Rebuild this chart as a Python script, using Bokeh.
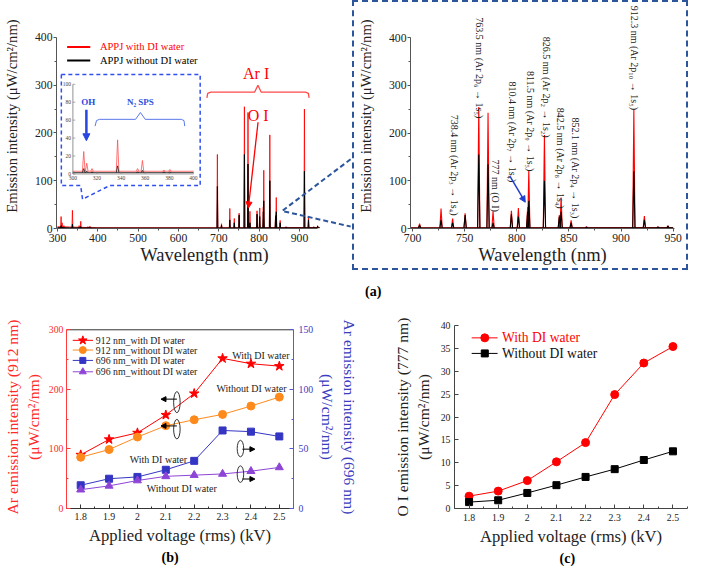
import math
from bokeh.plotting import figure
from bokeh.layouts import row, column
from bokeh.models import Range1d, LinearAxis, FixedTicker, Arrow, NormalHead, Title, Div
from bokeh.core.properties import value
from bokeh.embed import file_html
from bokeh.resources import INLINE

FONT = "Liberation Serif"

# ---------------- (a) emission spectra (peak centre, peak height) ----------------
peak_wl = [309.0, 311.5, 315.9, 337.1, 353.7, 357.7, 375.5, 380.5,
           696.5, 706.7, 727.3, 738.4, 750.4, 763.5, 772.4, 777.2, 794.8, 801.5,
           810.4, 811.5, 826.5, 840.8, 842.5, 852.1, 866.8, 912.3, 922.4, 935.4, 945.0]
peak_with = [25, 12, 6, 38, 6, 15, 4, 5,
             155, 10, 42, 21, 32, 255, 243, 36, 37, 43,
             45, 122, 196, 28, 65, 17, 4, 250, 26, 4, 6]
peak_without = [6, 3, 2, 9, 2, 4, 2, 2,
                88, 7, 18, 12, 28, 155, 135, 12, 30, 25,
                35, 58, 100, 25, 35, 12, 3, 120, 18, 3, 5]
base_wl = [300, 330, 400, 690, 950]
base_with = [3.5, 3.0, 1.5, 1.5, 2.0]
base_without = [1.8, 1.5, 1.0, 1.0, 1.5]

a_xticks = [300, 400, 500, 600, 700, 800, 900]
a_yticks = [0, 100, 200, 300, 400]
b_xticks = [700, 750, 800, 850, 900, 950]
inset_xticks = [300, 320, 340, 360, 380, 400]
inset_yticks = [0, 20, 40, 60, 80, 100]

line_labels = ["738.4 nm (Ar 2p\u2083 \u2192 1s\u2084)", "763.5 nm (Ar 2p\u2086 \u2192 1s\u2085)",
               "777 nm (O I)", "810.4 nm (Ar 2p\u2087 \u2192 1s\u2084)",
               "811.5 nm (Ar 2p\u2089 \u2192 1s\u2085)", "826.5 nm (Ar 2p\u2082 \u2192 1s\u2082)",
               "842.5 nm (Ar 2p\u2088 \u2192 1s\u2084)", "852.1 nm (Ar 2p\u2084 \u2192 1s\u2083)",
               "912.3 nm (Ar 2p\u2081\u2080 \u2192 1s\u2085)"]

# ---------------- (b) / (c) ----------------
volt = [1.8, 1.9, 2.0, 2.1, 2.2, 2.3, 2.4, 2.5]
ar912_with = [90, 116, 127, 157, 193, 252, 243, 239]
ar912_without = [86, 99, 120, 139, 149, 158, 172, 187]
ar696_with = [19.5, 25, 26.5, 32.5, 40, 65.5, 64.5, 60.5]
ar696_without = [15.8, 19, 23.5, 27, 28, 29, 31.3, 34.5]
oi_with = [2.7, 3.8, 6.1, 10.2, 14.4, 24.9, 31.8, 35.4]
oi_without = [1.4, 1.8, 3.4, 5.1, 6.9, 8.6, 10.6, 12.5]
b_legend = ["912 nm_with DI water", "912 nm_without DI water",
            "696 nm_with DI water", "696 nm_without DI water"]
c_legend = ["With DI water", "Without DI water"]

RED = "#ff0000"
ORANGE = "#ff8a1c"
BLUE = "#3535c4"
PURPLE = "#8e45d6"
NAVY = "#2c559c"
INSET_BLUE = "#2f4ff0"
HW = 1.1


def base_fig(**kw):
    p = figure(output_backend="svg", toolbar_location=None, title=None, **kw)
    p.xgrid.visible = False
    p.ygrid.visible = False
    p.outline_line_color = None
    p.background_fill_color = "white"
    p.border_fill_color = "white"
    return p


def style_axis(ax, tick_size, label_size, color="#222222", line_color="#555555"):
    ax.axis_label_text_font = FONT
    ax.axis_label_text_font_style = "normal"
    ax.axis_label_text_font_size = f"{label_size}px"
    ax.axis_label_text_color = color
    ax.major_label_text_font = FONT
    ax.major_label_text_font_size = f"{tick_size}px"
    ax.major_label_text_color = color
    ax.axis_line_color = line_color
    ax.major_tick_line_color = line_color
    ax.minor_tick_line_color = line_color


def txt(p, x, y, s, size, color="black", align="center", baseline="middle",
        angle=0.0, bold=False, **kw):
    p.text(x=[x], y=[y], text=[s], text_font=value(FONT), text_font_size=f"{size}px",
           text_color=color, text_align=align, text_baseline=baseline, angle=angle,
           text_font_style="bold" if bold else "normal", **kw)


def peak_lines(wl, h, base, maxwl=None):
    xs, ys = [], []
    for w, v in zip(wl, h):
        if maxwl is not None and w > maxwl:
            continue
        xs.append([w - HW, w, w + HW])
        ys.append([base, v, base])
    return xs, ys


def panel_tag(p, text, place, offset, standoff, valign="bottom"):
    p.add_layout(Title(text=text, align="left", offset=offset, standoff=standoff,
                       vertical_align=valign,
                       text_font=FONT, text_font_size="14px", text_font_style="bold",
                       text_color="black"), place)


# ======================= (a) left: full spectrum =======================
pa = base_fig(width=352, height=284, x_range=Range1d(297.6, 1031.5), y_range=Range1d(0, 471.2),
              min_border_left=52, min_border_right=0, min_border_top=3, min_border_bottom=56)
pa.extra_x_ranges = {"ix": Range1d(286.4, 532.0)}
pa.extra_y_ranges = {"iy": Range1d(-60.87, 190.1)}

xs, ys = peak_lines(peak_wl, peak_with, 1.5)
pa.multi_line(xs, ys, line_color=RED, line_width=1, line_alpha=0.85)
pa.line(base_wl, base_with, line_color=RED, line_width=1)
xs, ys = peak_lines(peak_wl, peak_without, 1.0)
pa.multi_line(xs, ys, line_color="black", line_width=1)
pa.line(base_wl, base_without, line_color="black", line_width=1)

pa.xaxis.ticker = FixedTicker(ticks=a_xticks, minor_ticks=[t + 50 for t in a_xticks[:-1]])
pa.xaxis.bounds = (297.6, 945)
pa.yaxis.ticker = FixedTicker(ticks=a_yticks, minor_ticks=[t + 50 for t in a_yticks[:-1]])
pa.yaxis.bounds = (0, 400)
pa.xaxis.axis_label = "Wavelength (nm)"
pa.yaxis.axis_label = "Emission intensity (\u03bcW/cm\u00b2/nm)"
style_axis(pa.xaxis[0], 11.7, 18.5)
style_axis(pa.yaxis[0], 11.7, 14.7)
for ax in (pa.xaxis[0], pa.yaxis[0]):
    ax.major_tick_out = 3
    ax.major_tick_in = 0
    ax.minor_tick_out = 2
    ax.minor_tick_in = 0
pa.yaxis.major_label_standoff = 1
pa.yaxis.axis_label_standoff = 12
pa.xaxis.major_label_standoff = 2
pa.xaxis.axis_label_standoff = 0

# legend
pa.segment(x0=[323.9], y0=[380.3], x1=[381.3], y1=[380.3], line_color=RED, line_width=2)
txt(pa, 405.2, 380.3, "APPJ with DI water", 10.5, color=RED, align="left")
pa.segment(x0=[323.9], y0=[351.7], x1=[381.3], y1=[351.7], line_color="black", line_width=2)
txt(pa, 405.2, 351.7, "APPJ without DI water", 10.5, color="black", align="left")

# Ar I brace and O I arrow
pa.line([670.5, 672.5, 680, 789, 797, 805, 915, 922, 924],
        [273.5, 283, 285.7, 285.7, 300, 285.7, 285.7, 283, 273.5],
        line_color="#ff4a4a", line_width=1.3)
txt(pa, 792.5, 324.5, "Ar I", 16, color=RED)
txt(pa, 797.5, 237, "O I", 16, color=RED)
pa.add_layout(Arrow(end=NormalHead(size=6, fill_color=RED, line_color=RED),
                    x_start=797.3, y_start=222.5, x_end=773.3, y_end=42.9,
                    line_color=RED, line_width=1.3))

# inset callout box
pa.line([309.6, 653.8, 653.8, 429.1, 362.2, 357.4, 309.6, 309.6],
        [322.5, 322.5, 89.8, 89.8, 61.2, 89.8, 89.8, 322.5],
        line_color=INSET_BLUE, line_width=1.5, line_dash="4 3")
# zoom connectors towards panel on the right
pa.line([1026.8, 857.0, 1026.8], [145.0, 36.7, 4.1],
        line_color=NAVY, line_width=2, line_dash="5 3")

# inset plot (own scales)
IR = dict(x_range_name="ix", y_range_name="iy")
xs, ys = peak_lines(peak_wl, peak_with, 3.0, 400)
pa.multi_line(xs, ys, line_color="#ff5050", line_width=0.8, **IR)
pa.line([300, 400], [3.0, 3.0], line_color="#ff5050", line_width=0.8, **IR)
xs, ys = peak_lines(peak_wl, peak_without, 1.5, 400)
pa.multi_line(xs, ys, line_color="#222222", line_width=0.8, **IR)
pa.line([300, 400], [1.5, 1.5], line_color="#222222", line_width=0.8, **IR)
pa.segment(x0=[300, 300], y0=[0, 0], x1=[300, 400], y1=[100, 0],
           line_color="#777777", line_width=0.8, **IR)
pa.segment(x0=inset_xticks, y0=[0] * 6, x1=inset_xticks, y1=[2.5] * 6,
           line_color="#777777", line_width=0.6, **IR)
pa.segment(x0=[300] * 6, y0=inset_yticks, x1=[302] * 6, y1=inset_yticks,
           line_color="#777777", line_width=0.6, **IR)
pa.text(x=inset_xticks, y=[0] * 6, text=[str(t) for t in inset_xticks], y_offset=2,
        text_font=value(FONT), text_font_size="5.5px", text_color="#444444",
        text_align="center", text_baseline="top", **IR)
pa.text(x=[300] * 6, y=inset_yticks, text=[str(t) for t in inset_yticks], x_offset=-2,
        text_font=value(FONT), text_font_size="5.5px", text_color="#444444",
        text_align="right", text_baseline="middle", **IR)
txt(pa, 312.8, 80.4, "OH", 9, color="#2846e0", bold=True, **IR)
pa.add_layout(Arrow(end=NormalHead(size=7, fill_color="#2846e0", line_color="#2846e0"),
                    x_start=311.2, y_start=71.7, x_end=311.2, y_end=37,
                    line_color="#2846e0", line_width=2.5, **IR))
txt(pa, 356, 80.4, "N\u2082 SPS", 9, color="#3050e0", bold=True, **IR)
pa.line([318.4, 319.6, 322, 352, 356, 360, 390, 392.2, 392.8],
        [53.3, 59.5, 60.9, 60.9, 68.5, 60.9, 60.9, 59.5, 53.3],
        line_color="#5a78ea", line_width=1, **IR)

# ======================= (a) right: zoom 700-950 nm =======================
pb = base_fig(width=336, height=270, x_range=Range1d(698, 951.3), y_range=Range1d(0, 472),
              min_border_left=53, min_border_right=16, min_border_top=1, min_border_bottom=44)
pb.styles = {"border": "2px dashed " + NAVY}
xs, ys = peak_lines(peak_wl, peak_with, 1.5)
pb.multi_line(xs, ys, line_color=RED, line_width=1.1)
pb.line(base_wl, base_with, line_color=RED, line_width=1)
xs, ys = peak_lines(peak_wl, peak_without, 1.0)
pb.multi_line(xs, ys, line_color="black", line_width=1.1)
pb.line(base_wl, base_without, line_color="black", line_width=1)
pb.xaxis.ticker = FixedTicker(ticks=b_xticks, minor_ticks=[t + 25 for t in b_xticks[:-1]])
pb.yaxis.ticker = FixedTicker(ticks=a_yticks, minor_ticks=[t + 50 for t in a_yticks[:-1]])
pb.yaxis.bounds = (0, 400)
pb.xaxis.axis_label = "Wavelength (nm)"
pb.yaxis.axis_label = "Emission intensity (\u03bcW/cm\u00b2/nm)"
style_axis(pb.xaxis[0], 11.7, 18.5)
style_axis(pb.yaxis[0], 11.7, 14.7)
for ax in (pb.xaxis[0], pb.yaxis[0]):
    ax.major_tick_out = 3
    ax.major_tick_in = 0
    ax.minor_tick_out = 2
    ax.minor_tick_in = 0
pb.yaxis.major_label_standoff = 1
pb.yaxis.axis_label_standoff = 12
pb.xaxis.major_label_standoff = 2
pb.xaxis.axis_label_standoff = 0
lab_x = [740.4, 764.5, 779.3, 796.0, 812.7, 828.5, 842.4, 856.3, 913.2]
lab_y = [238.8, 442.9, 144.9, 308.2, 330.6, 402.1, 253.1, 232.7, 467.4]
pb.text(x=lab_x, y=lab_y, text=line_labels, angle=-math.pi / 2, text_font=value(FONT),
        text_font_size="10px", text_color="#222222", text_align="left", text_baseline="middle")
pb.add_layout(Arrow(end=NormalHead(size=6, fill_color="#2040d0", line_color="#2040d0"),
                    x_start=793.2, y_start=110.2, x_end=808.1, y_end=55.1,
                    line_color="#2040d0", line_width=1.5))

tag_a = Div(text="<div style=\"font: bold 14px 'Liberation Serif'; color: black; "
                 "margin: 15px 0 0 13px; line-height: 14px;\">(a)</div>",
            width=340, height=30, margin=0)

# ======================= (b) =======================
pc = base_fig(width=360, height=266, x_range=Range1d(1.75, 2.55), y_range=Range1d(0, 307.2),
              min_border_left=60, min_border_right=62, min_border_top=25, min_border_bottom=58)
pc.extra_y_ranges = {"r": Range1d(0, 153.6)}
pc.segment(x0=[1.75], y0=[300], x1=[2.55], y1=[300], line_color="#333333", line_width=1)
pc.line(volt, ar912_with, line_color=RED, line_width=1)
pc.scatter(volt, ar912_with, marker="star", size=10, color=RED)
pc.line(volt, ar912_without, line_color=ORANGE, line_width=1)
pc.scatter(volt, ar912_without, marker="circle", size=8, color=ORANGE)
pc.line(volt, ar696_with, line_color=BLUE, line_width=1, y_range_name="r")
pc.scatter(volt, ar696_with, marker="square", size=7, color=BLUE, y_range_name="r")
pc.line(volt, ar696_without, line_color=PURPLE, line_width=1, y_range_name="r")
pc.scatter(volt, ar696_without, marker="triangle", size=8, color=PURPLE, y_range_name="r")

vticks = volt
vminor = [round(v + 0.05, 2) for v in volt[:-1]] + [1.75, 2.55]
pc.xaxis.ticker = FixedTicker(ticks=vticks, minor_ticks=vminor)
pc.xaxis.axis_label = "Applied voltage (rms) (kV)"
style_axis(pc.xaxis[0], 9.8, 16.6, color="#222222", line_color="#333333")
pc.yaxis.ticker = FixedTicker(ticks=[0, 100, 200, 300], minor_ticks=[50, 150, 250])
pc.yaxis.bounds = (0, 300)
pc.yaxis.axis_label = "(\u03bcW/cm\u00b2/nm)"
style_axis(pc.yaxis[0], 9.8, 15.6, color="#ff2a2a", line_color="#ff3b3b")

r_axis = LinearAxis(y_range_name="r", ticker=FixedTicker(ticks=[0, 50, 100, 150],
                                                         minor_ticks=[25, 75, 125]),
                    axis_label="(\u03bcW/cm\u00b2/nm)", bounds=(0, 150))
style_axis(r_axis, 9.8, 15.6, color="#3c3cc0", line_color="#5a5ad0")
pc.add_layout(r_axis, "right")
r_outer = LinearAxis(y_range_name="r", ticker=FixedTicker(ticks=[]), bounds=(0, 150),
                     axis_label="Ar emission intensity (696 nm)")
style_axis(r_outer, 1, 15.6, color="#3c3cc0", line_color=None)
pc.add_layout(r_outer, "right")
l_outer = LinearAxis(ticker=FixedTicker(ticks=[]), bounds=(0, 300),
                     axis_label="Ar emission intensity (912 nm)")
style_axis(l_outer, 1, 15.6, color="#ff2a2a", line_color=None)
pc.add_layout(l_outer, "left")
for ax in (pc.xaxis[0], pc.yaxis[0], r_axis, r_outer, l_outer):
    ax.major_tick_in = 4
    ax.major_tick_out = 0
    ax.minor_tick_in = 2
    ax.minor_tick_out = 0
for ax in (r_outer, l_outer):
    ax.major_tick_in = 0
    ax.minor_tick_in = 0
pc.xaxis[0].major_label_standoff = 4
pc.xaxis[0].axis_label_standoff = 3
pc.yaxis[0].major_label_standoff = 3
pc.yaxis[0].axis_label_standoff = 4
l_outer.axis_label_standoff = 1
r_axis.major_label_standoff = 5
r_axis.axis_label_standoff = 3
r_outer.axis_label_standoff = 1

# legend (b)
leg_y = [282.3, 266.0, 248.6, 229.5]
leg_col = [RED, ORANGE, BLUE, PURPLE]
leg_mark = ["star", "circle", "square", "triangle"]
leg_size = [9, 7, 6, 7]
pc.segment(x0=[1.772] * 4, y0=leg_y, x1=[1.8436] * 4, y1=leg_y, line_color=leg_col, line_width=1)
pc.scatter(x=[1.8075] * 4, y=leg_y, marker=leg_mark, size=leg_size, color=leg_col)
for ly, lt in zip(leg_y, b_legend):
    txt(pc, 1.8535, ly, lt, 9.8, color="#222222", align="left")

# annotations (b)
txt(pc, 2.435, 257.1, "With DI water", 10, color="#222222")
txt(pc, 2.402, 201.2, "Without DI water", 10, color="#222222")
txt(pc, 2.074, 82.7, "With DI water", 10, color="#222222")
txt(pc, 2.156, 33.7, "Without DI water", 10, color="#222222")
pc.ellipse(x=[2.139, 2.139, 2.363, 2.363], y=[178.5, 133.2, 100.6, 57.7],
           width=[6.5, 6.5, 6.5, 6.5], height=[21, 19.5, 16.5, 16.5],
           width_units="screen", height_units="screen",
           fill_color=None, line_color="#333333", line_width=1)
for (x0, y0, x1, y1) in [(2.139, 183.6, 2.083, 183.6), (2.139, 138.6, 2.083, 138.6),
                         (2.37, 99.6, 2.414, 99.6), (2.37, 49.5, 2.414, 49.5)]:
    pc.add_layout(Arrow(end=NormalHead(size=5, fill_color="black", line_color="black"),
                        x_start=x0, y_start=y0, x_end=x1, y_end=y1,
                        line_color="black", line_width=1))
panel_tag(pc, "(b)", "below", 95, 0)

# ======================= (c) =======================
pd_ = base_fig(width=332, height=266, x_range=Range1d(1.75, 2.55), y_range=Range1d(0, 40),
               min_border_left=94, min_border_right=5, min_border_top=25, min_border_bottom=58)
pd_.line(volt, oi_with, line_color=RED, line_width=1)
pd_.scatter(volt, oi_with, marker="circle", size=8, color=RED)
pd_.line(volt, oi_without, line_color="black", line_width=1)
pd_.scatter(volt, oi_without, marker="square", size=7, color="black")
pd_.xaxis.ticker = FixedTicker(ticks=vticks, minor_ticks=vminor)
pd_.yaxis.ticker = FixedTicker(ticks=[0, 5, 10, 15, 20, 25, 30, 35, 40])
pd_.xaxis.axis_label = "Applied voltage (rms) (kV)"
pd_.yaxis.axis_label = "(\u03bcW/cm\u00b2/nm)"
style_axis(pd_.xaxis[0], 9.8, 16.6, line_color="#444444")
style_axis(pd_.yaxis[0], 9.8, 15.6, line_color="#444444")
d_outer = LinearAxis(ticker=FixedTicker(ticks=[]), axis_label="O I emission intensity (777 nm)")
style_axis(d_outer, 1, 15.6, line_color=None)
pd_.add_layout(d_outer, "left")
for ax in (pd_.xaxis[0], pd_.yaxis[0]):
    ax.major_tick_in = 4
    ax.major_tick_out = 0
    ax.minor_tick_in = 2
    ax.minor_tick_out = 0
d_outer.major_tick_in = 0
d_outer.major_tick_out = 0
d_outer.minor_tick_in = 0
d_outer.minor_tick_out = 0
pd_.xaxis[0].major_label_standoff = 5
pd_.xaxis[0].axis_label_standoff = 3
pd_.yaxis[0].major_label_standoff = 4
pd_.yaxis[0].axis_label_standoff = 6
d_outer.axis_label_standoff = 1

# legend (c)
pd_.segment(x0=[1.809, 1.809], y0=[37.3, 33.9], x1=[1.898, 1.898], y1=[37.3, 33.9],
            line_color=[RED, "black"], line_width=1)
pd_.scatter(x=[1.854], y=[37.3], marker="circle", size=8, color=RED)
pd_.scatter(x=[1.854], y=[33.9], marker="square", size=7, color="black")
txt(pd_, 1.913, 37.3, c_legend[0], 13.6, color=RED, align="left")
txt(pd_, 1.913, 33.9, c_legend[1], 13.6, color="#111111", align="left")
panel_tag(pd_, "(c)", "below", 105, 0)

layout = column(row(pa, column(pb, tag_a)), row(pc, pd_))
open("out.html", "w").write(file_html(layout, INLINE))
